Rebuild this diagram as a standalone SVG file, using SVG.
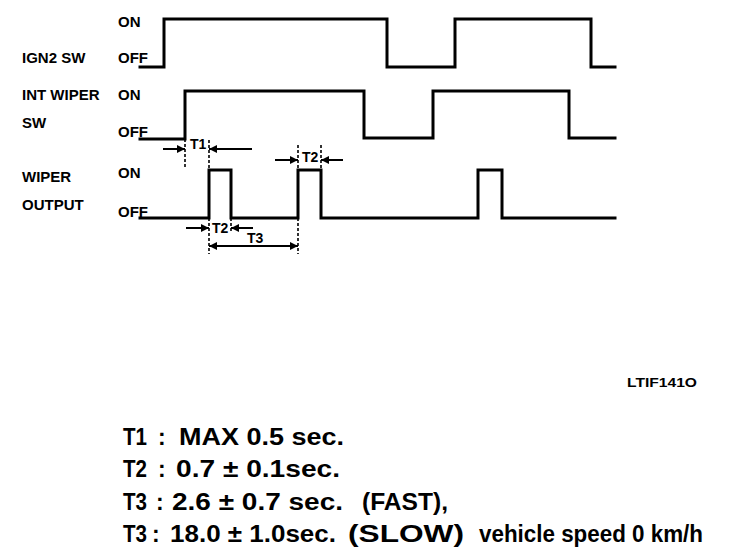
<svg xmlns="http://www.w3.org/2000/svg" width="736" height="560" viewBox="0 0 736 560">
<style>
.bg{fill:#fff}
.lbl{font-family:"Liberation Sans",Arial,sans-serif;font-weight:bold;font-size:15px;fill:#000}
.tl{font-family:"Liberation Sans",Arial,sans-serif;font-weight:bold;font-size:14px;fill:#000}
.leg{font-family:"Liberation Sans",Arial,sans-serif;font-weight:bold;font-size:23px;fill:#000}
.code{font-family:"Liberation Sans",Arial,sans-serif;font-weight:bold;font-size:12.5px;fill:#000}
.wave{fill:none;stroke:#000;stroke-width:3;stroke-linejoin:miter;stroke-linecap:square}
.dash{fill:none;stroke:#000;stroke-width:1.6;stroke-dasharray:3 2}
.dim{fill:none;stroke:#000;stroke-width:2}
</style>
<defs>
<marker id="ah" viewBox="0 0 10 10" refX="10" refY="5" markerWidth="5" markerHeight="4" markerUnits="strokeWidth" orient="auto-start-reverse">
<path d="M0,0 L10,5 L0,10 Z" fill="#000"/>
</marker>
</defs>
<rect class="bg" x="0" y="0" width="736" height="560"/>

<g id="ign2">
<text class="lbl" x="22" y="63">IGN2 SW</text>
<text class="lbl" x="118" y="27">ON</text>
<text class="lbl" x="118" y="63">OFF</text>
<path class="wave" d="M140,67 H164 V19 H387 V67 H455 V19 H591 V67 H615"/>
</g>

<g id="intwiper">
<text class="lbl" x="22" y="100">INT WIPER</text>
<text class="lbl" x="22" y="128">SW</text>
<text class="lbl" x="118" y="100">ON</text>
<text class="lbl" x="118" y="137">OFF</text>
<path class="wave" d="M140,139 H185 V91 H364 V138 H433 V91 H569 V138 H615"/>
</g>

<g id="wiper">
<text class="lbl" x="22" y="182">WIPER</text>
<text class="lbl" x="22" y="210">OUTPUT</text>
<text class="lbl" x="118" y="178">ON</text>
<text class="lbl" x="118" y="217">OFF</text>
<path class="wave" d="M140,218 H209 V170 H231 V218 H298 V170 H321 V218 H478 V170 H502 V218 H615"/>
</g>

<g id="connectors">
<path class="dash" d="M185,139 V168 M209,140 V170 M298,145 V170 M321,145 V170 M209,218 V254 M231,218 V233 M298,218 V254"/>
<line class="dim" x1="163" y1="149" x2="185" y2="149" marker-end="url(#ah)"/>
<line class="dim" x1="252" y1="149" x2="209" y2="149" marker-end="url(#ah)"/>
<line class="dim" x1="275" y1="160" x2="298" y2="160" marker-end="url(#ah)"/>
<line class="dim" x1="343" y1="160" x2="321" y2="160" marker-end="url(#ah)"/>
<line class="dim" x1="186" y1="228" x2="209" y2="228" marker-end="url(#ah)"/>
<line class="dim" x1="253" y1="228" x2="231" y2="228" marker-end="url(#ah)"/>
<line class="dim" x1="209" y1="246" x2="298" y2="246" marker-start="url(#ah)" marker-end="url(#ah)"/>
<text class="tl" x="190" y="149">T1</text>
<text class="tl" x="302" y="162">T2</text>
<text class="tl" x="212" y="233">T2</text>
<text class="tl" x="247" y="243">T3</text>
</g>

<g id="code">
<text class="code" x="627" y="387" textLength="70" lengthAdjust="spacingAndGlyphs">LTIF141O</text>
</g>

<g id="legend">
<text class="leg" x="123" y="445" textLength="24" lengthAdjust="spacingAndGlyphs">T1</text>
<text class="leg" x="158" y="445">:</text>
<text class="leg" x="179" y="445" textLength="165" lengthAdjust="spacingAndGlyphs">MAX 0.5 sec.</text>
<text class="leg" x="123" y="477" textLength="24" lengthAdjust="spacingAndGlyphs">T2</text>
<text class="leg" x="158" y="477">:</text>
<text class="leg" x="176" y="477" textLength="164" lengthAdjust="spacingAndGlyphs">0.7 ± 0.1sec.</text>
<text class="leg" x="123" y="510" textLength="24" lengthAdjust="spacingAndGlyphs">T3</text>
<text class="leg" x="156" y="510">:</text>
<text class="leg" x="172" y="510" textLength="171" lengthAdjust="spacingAndGlyphs">2.6 ± 0.7 sec.</text>
<text class="leg" x="362" y="510" textLength="86" lengthAdjust="spacingAndGlyphs">(FAST),</text>
<text class="leg" x="123" y="542" textLength="24" lengthAdjust="spacingAndGlyphs">T3</text>
<text class="leg" x="152" y="542">:</text>
<text class="leg" x="170" y="542" textLength="166" lengthAdjust="spacingAndGlyphs">18.0 ± 1.0sec.</text>
<text class="leg" x="348" y="542" textLength="116" lengthAdjust="spacingAndGlyphs">(SLOW)</text>
<text class="leg" x="479" y="542" textLength="224" lengthAdjust="spacingAndGlyphs">vehicle speed 0 km/h</text>
</g>
</svg>
